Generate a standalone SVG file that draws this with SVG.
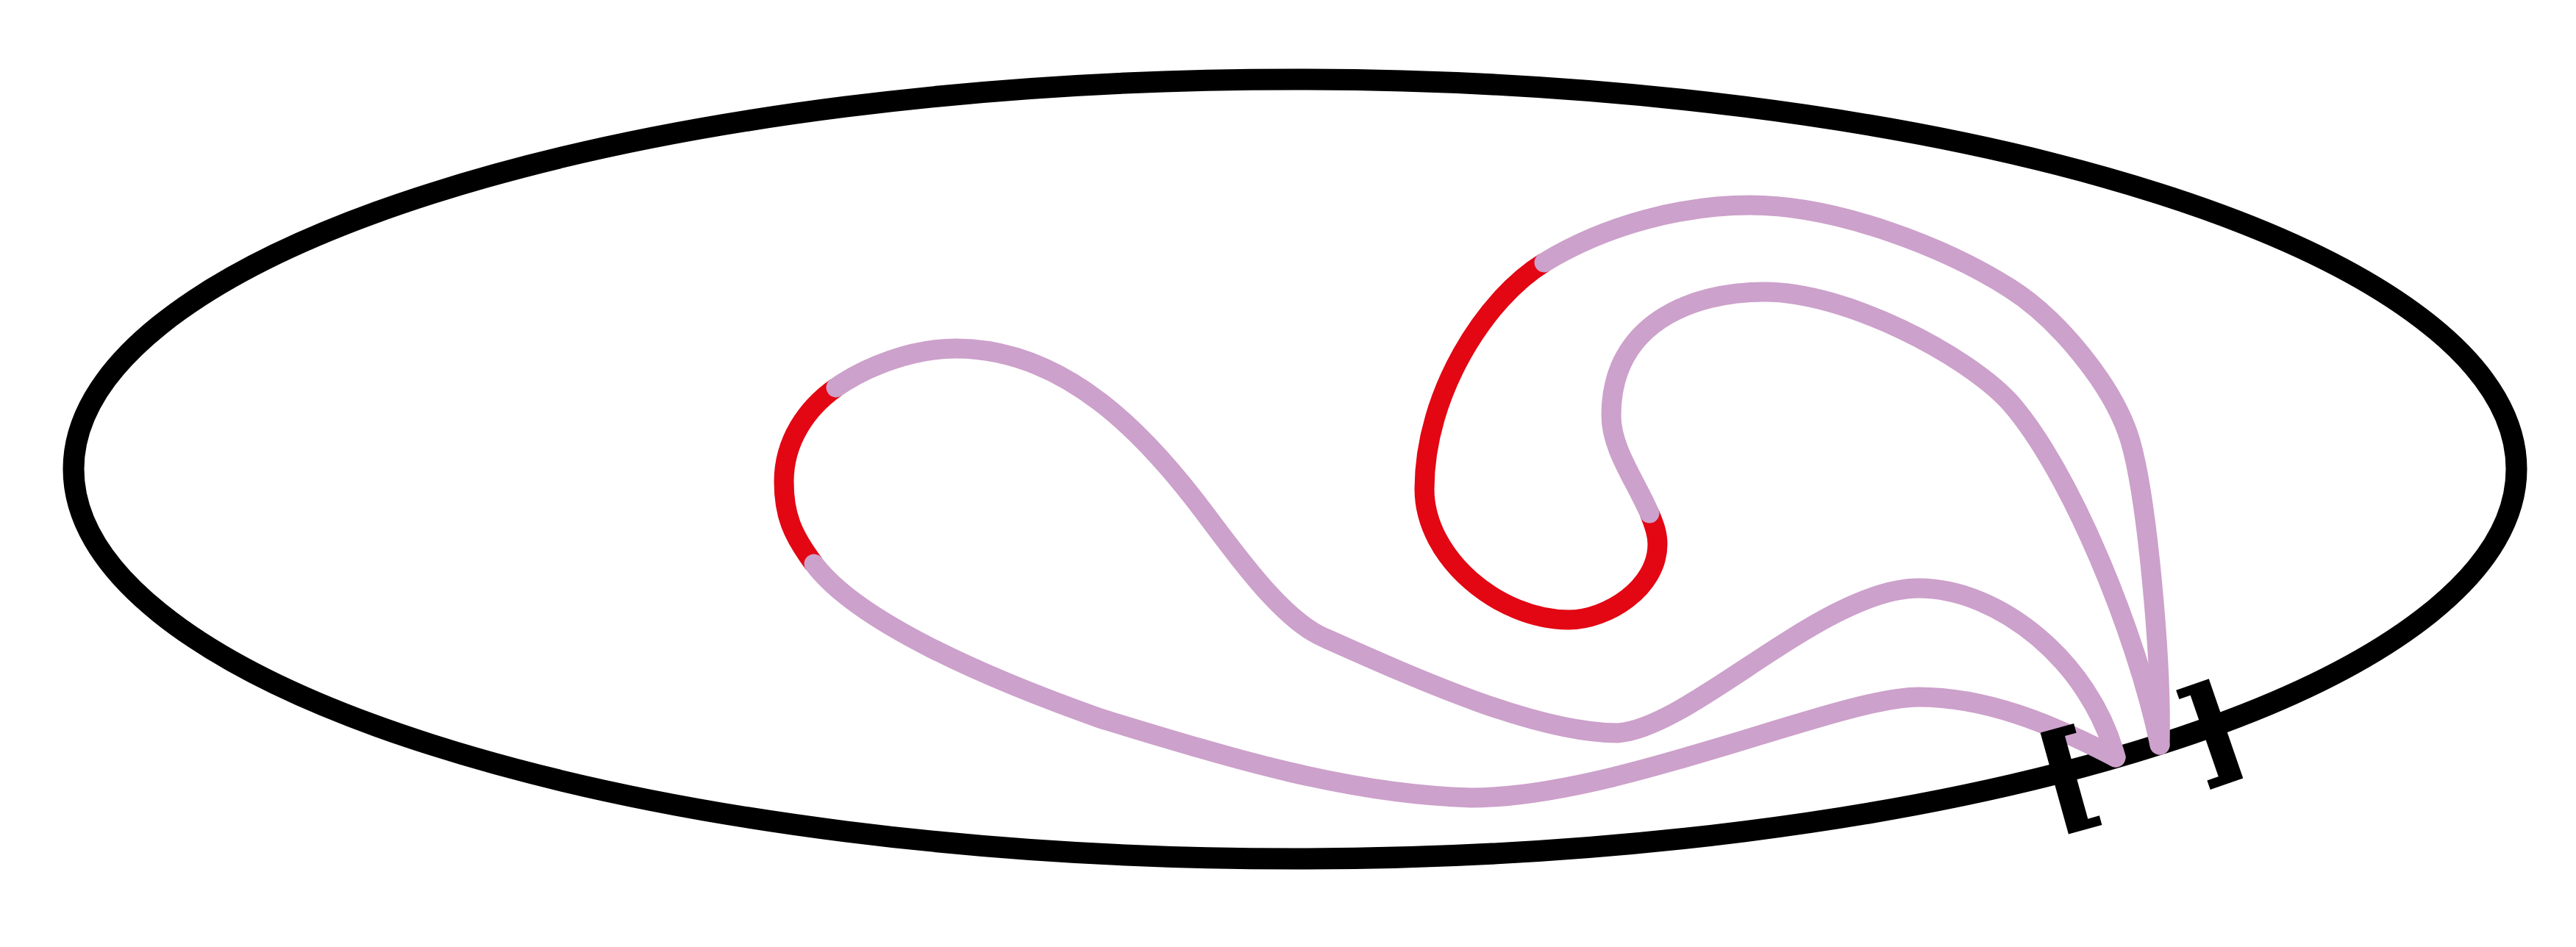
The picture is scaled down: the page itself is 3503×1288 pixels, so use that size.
<svg xmlns="http://www.w3.org/2000/svg" width="3503" height="1288" viewBox="0 0 3503 1288">
<style>
.bd{fill:none;stroke:#000;stroke-width:29}
.red{fill:none;stroke:#e30613;stroke-width:27;stroke-linecap:butt}
.pink{fill:none;stroke:#cca1cb;stroke-width:27;stroke-linecap:round;stroke-linejoin:round}
.br{font-family:"DejaVu Serif",serif;font-weight:bold;font-size:156px;fill:#000;stroke:#000;stroke-width:4;text-anchor:middle;dominant-baseline:central}
</style>
<rect width="3503" height="1288" fill="#fff"/>
<g id="boundary">
<ellipse class="bd" cx="1761" cy="638" rx="1661" ry="530"/>
</g>
<g id="curve">
<path id="r1" class="red" d="M 1137,527 C 1097,555 1066,600 1066,655 C 1066,700 1077,727 1107,767"/>
<path id="r2" class="red" d="M 2100,357 C 2020,406 1937,535 1937,665 C 1937,760 2040,843 2133,843 C 2185,843 2254,800 2254,740 C 2254,725 2249,712 2243,698"/>
<path id="p1" class="pink" d="M 1137,527 C 1177,499 1240,474 1300,474 C 1450,474 1560,593 1640,700 C 1685,760 1745,843 1800,867 C 1930,925 2090,997 2200,997 C 2300,990 2480,800 2609,800 C 2719,800 2842,900 2877,1030"/>
<path id="p2" class="pink" d="M 2877,1030 C 2787,983 2699,948 2609,948 C 2500,948 2200,1085 2000,1085 C 1830,1080 1670,1030 1496,977 C 1346,924 1167,847 1107,767"/>
<path id="p3" class="pink" d="M 2100,357 C 2185,305 2290,279 2380,279 C 2500,279 2648,338 2733,392 C 2798,433 2875,525 2897,600 C 2920,680 2940,900 2937,1013"/>
<path id="p4" class="pink" d="M 2937,1013 C 2905,860 2815,640 2733,547 C 2673,482 2510,397 2400,397 C 2300,397 2191,440 2191,565 C 2191,610 2223,652 2243,698"/>
</g>
<g id="labels">
<text class="br" transform="translate(2811,1055) rotate(-15.5)">[</text>
<text class="br" transform="translate(3007,992) rotate(-19)">]</text>
</g>
</svg>
